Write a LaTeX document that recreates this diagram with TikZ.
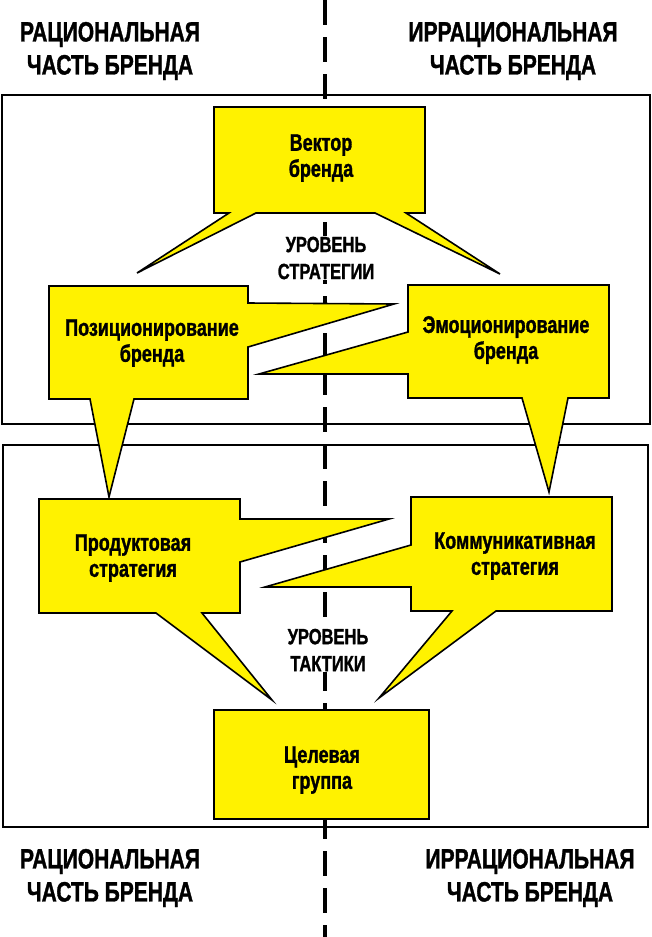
\documentclass[tikz,border=0pt]{standalone}
\usepackage{fontspec}
\newfontfamily\cf{Liberation Sans Bold}[FakeStretch=0.75, FakeBold=1.2]
\tikzset{
 callout/.style={fill=yellow, draw=black, line width=1.6pt, line join=miter},
 frame/.style={draw=black, line width=1.8pt},
 head/.style={font=\cf\fontsize{28}{33}\selectfont, align=center},
 lbl/.style={font=\cf\fontsize{24}{26}\selectfont, align=center},
 lvl/.style={font=\cf\fontsize{22}{27}\selectfont, align=center, fill=white, inner sep=1pt},
}
\begin{document}
\begin{tikzpicture}[x=1pt,y=-1pt]
\useasboundingbox (0,0) rectangle (652,937);
\draw[line width=4.5pt, dash pattern=on 25pt off 12pt] (325,0) -- (325,937);
\draw[frame] (2,95) rectangle (650,424);
\draw[frame] (3,445) rectangle (648,827);
\draw[callout] (214,107)--(425,107)--(425,213)--(406,213)--(500,274)--(375,213)--(256,213)--(137,273)--(229,213)--(214,213)--cycle;
\draw[callout] (49,286)--(248,286)--(248,303)--(394,304)--(248,347)--(248,399)--(134,399)--(109,497)--(90,399)--(49,399)--cycle;
\draw[callout] (408,285)--(609,285)--(609,398)--(568,398)--(549,492)--(522,398)--(408,398)--(408,374)--(259,374)--(408,332)--cycle;
\draw[callout] (39,499)--(240,499)--(240,519)--(389,519)--(240,562)--(240,613)--(202,613)--(272,700)--(156,613)--(39,613)--cycle;
\draw[callout] (411,497)--(612,497)--(612,611)--(496,611)--(379,698)--(452,611)--(411,611)--(411,587)--(265,587)--(411,545)--cycle;
\draw[callout] (214,710) rectangle (429,819);
\node[head] (h1) at (110,51) {РАЦИОНАЛЬНАЯ\\ЧАСТЬ БРЕНДА};
\node[head] (h2) at (513,51) {ИРРАЦИОНАЛЬНАЯ\\ЧАСТЬ БРЕНДА};
\node[head] (h3) at (110,878) {РАЦИОНАЛЬНАЯ\\ЧАСТЬ БРЕНДА};
\node[head] (h4) at (530,878) {ИРРАЦИОНАЛЬНАЯ\\ЧАСТЬ БРЕНДА};
\node[lbl] (vec) at (321,158) {Вектор\\бренда};
\node[lbl] (pos) at (152,343) {Позиционирование\\бренда};
\node[lbl] (emo) at (506,340) {Эмоционирование\\бренда};
\node[lbl] (prod) at (133,558) {Продуктовая\\стратегия};
\node[lbl] (comm) at (515,556) {Коммуникативная\\стратегия};
\node[lbl] (tg) at (322,770) {Целевая\\группа};
\node[lvl] (ls) at (326,258) {УРОВЕНЬ\\СТРАТЕГИИ};
\node[lvl] (lt) at (328,650) {УРОВЕНЬ\\ТАКТИКИ};
\end{tikzpicture}
\end{document}
